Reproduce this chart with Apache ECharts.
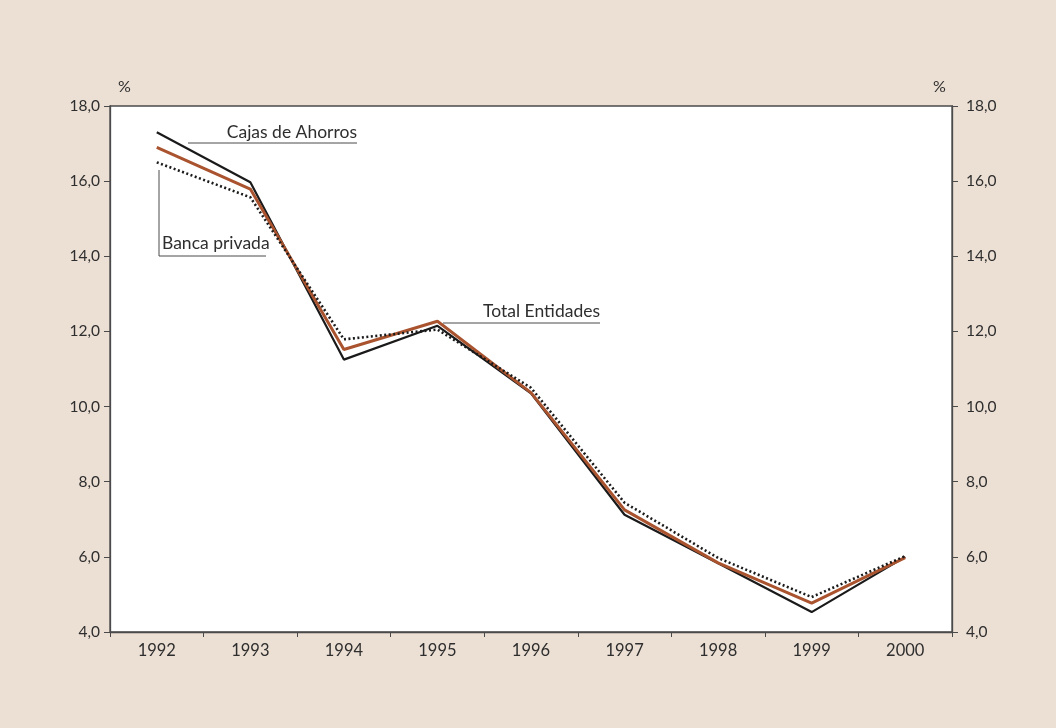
<!DOCTYPE html>
<html>
<head>
<meta charset="utf-8">
<script src="https://cdn.jsdelivr.net/npm/echarts@6/dist/echarts.min.js"></script>
<style>
html,body{margin:0;padding:0;background:#ecdfd4;}
#c{width:1056px;height:728px;}
</style>
</head>
<body>
<div id="c"></div>
<script>
const years = ['1992','1993','1994','1995','1996','1997','1998','1999','2000'];
const cajasAhorros = [17.3, 15.97, 11.25, 12.15, 10.35, 7.12, 5.83, 4.53, 6.0];
const totalEntidades = [16.9, 15.79, 11.52, 12.27, 10.37, 7.25, 5.84, 4.77, 5.98];
const bancaPrivada = [16.5, 15.57, 11.79, 12.05, 10.5, 7.44, 5.97, 4.93, 6.02];
const yMin = 4, yMax = 18, yStep = 2;

const FONT = 'Lato, "DejaVu Sans", sans-serif';
const TXT = '#2e2e2e';
const fmt = v => v.toFixed(1).replace('.', ',');

const chart = echarts.init(document.getElementById('c'));
const yAxisBase = {
  type: 'value', min: yMin, max: yMax, interval: yStep,
  axisLine: {show: true, lineStyle: {color: '#4a4a4a', width: 1.3}},
  axisTick: {show: true, length: 6, lineStyle: {color: '#4a4a4a'}},
  splitLine: {show: false},
  axisLabel: {formatter: fmt, color: TXT, fontSize: 15.5, fontFamily: FONT}
};
chart.setOption({
  animation: false,
  backgroundColor: '#ecdfd4',
  grid: {left: 110, right: 104, top: 106, bottom: 96, show: true,
         backgroundColor: '#ffffff', borderColor: '#4a4a4a', borderWidth: 1.3},
  xAxis: {
    type: 'category', data: years, boundaryGap: true,
    axisLine: {lineStyle: {color: '#4a4a4a', width: 1.3}},
    axisTick: {show: true, length: 5, lineStyle: {color: '#4a4a4a'}},
    axisLabel: {color: TXT, fontSize: 16.5, fontFamily: FONT, margin: 10}
  },
  yAxis: [
    Object.assign({}, yAxisBase, {position: 'left', axisLabel: Object.assign({}, yAxisBase.axisLabel, {margin: 10})}),
    Object.assign({}, yAxisBase, {position: 'right', axisLabel: Object.assign({}, yAxisBase.axisLabel, {margin: 14})})
  ],
  series: [
    {name: 'Cajas de Ahorros', type: 'line', data: cajasAhorros, symbol: 'none',
     lineStyle: {color: '#1a1a1a', width: 2.2}},
    {name: 'Total Entidades', type: 'line', data: totalEntidades, symbol: 'none',
     lineStyle: {color: '#a9532f', width: 3}},
    {name: 'Banca privada', type: 'line', data: bancaPrivada, symbol: 'none',
     lineStyle: {color: '#1a1a1a', width: 2.6, type: [2, 2.5]}}
  ],
  graphic: [
    {type: 'text', left: 118, top: 79, style: {text: '%', fill: TXT, font: '16px ' + FONT}},
    {type: 'text', left: 933, top: 79, style: {text: '%', fill: TXT, font: '16px ' + FONT}},
    // Cajas de Ahorros
    {type: 'polyline', shape: {points: [[188, 143], [357, 143]]}, style: {stroke: '#4a4a4a', lineWidth: 1}},
    {type: 'text', x: 357, y: 132, style: {text: 'Cajas de Ahorros', fill: TXT, font: '17.5px ' + FONT, align: 'right', verticalAlign: 'middle'}},
    // Banca privada
    {type: 'polyline', shape: {points: [[159, 170], [159, 256], [266, 256]]}, style: {stroke: '#4a4a4a', lineWidth: 1, fill: null}},
    {type: 'text', x: 162, y: 243, style: {text: 'Banca privada', fill: TXT, font: '17.5px ' + FONT, align: 'left', verticalAlign: 'middle'}},
    // Total Entidades
    {type: 'polyline', shape: {points: [[443, 323], [600, 323]]}, style: {stroke: '#4a4a4a', lineWidth: 1}},
    {type: 'text', x: 600, y: 311, style: {text: 'Total Entidades', fill: TXT, font: '17.5px ' + FONT, align: 'right', verticalAlign: 'middle'}}
  ]
});
</script>
</body>
</html>
